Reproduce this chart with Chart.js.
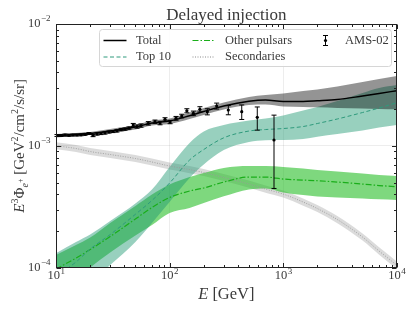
<!DOCTYPE html>
<html>
<head>
<meta charset="utf-8">
<script src="https://cdn.jsdelivr.net/npm/chart.js@4.4.0/dist/chart.umd.min.js"></script>
<style>
  html, body { margin: 0; padding: 0; background: #fff; }
</style>
</head>
<body>
<canvas id="chart" width="413" height="310"></canvas>
<script>
// energy grid [GeV]
const energy = [10, 15, 20, 30, 50, 70, 100, 150, 200, 300, 500, 700, 1000, 1500, 2000, 3000, 5000, 7000, 10000];

// E^3 flux [GeV^2/cm^2/s/sr]
const totalMid = [1.211e-3, 1.239e-3, 1.263e-3, 1.324e-3, 1.428e-3, 1.539e-3, 1.599e-3, 1.767e-3, 1.913e-3, 2.123e-3, 2.320e-3, 2.377e-3, 2.311e-3, 2.311e-3, 2.342e-3, 2.400e-3, 2.566e-3, 2.689e-3, 2.835e-3];
const totalHi = [1.251e-3, 1.275e-3, 1.299e-3, 1.374e-3, 1.482e-3, 1.614e-3, 1.676e-3, 1.877e-3, 2.044e-3, 2.268e-3, 2.517e-3, 2.614e-3, 2.689e-3, 2.818e-3, 2.900e-3, 3.069e-3, 3.340e-3, 3.535e-3, 3.742e-3];
const totalLo = [1.171e-3, 1.205e-3, 1.228e-3, 1.275e-3, 1.361e-3, 1.468e-3, 1.510e-3, 1.661e-3, 1.791e-3, 1.987e-3, 2.163e-3, 2.184e-3, 2.103e-3, 2.083e-3, 2.072e-3, 2.044e-3, 2.025e-3, 2.006e-3, 1.995e-3];

const top10Mid = [8.55e-5, 1.113e-4, 1.423e-4, 1.871e-4, 2.742e-4, 3.565e-4, 4.95e-4, 7.65e-4, 9.33e-4, 1.164e-3, 1.323e-3, 1.361e-3, 1.387e-3, 1.441e-3, 1.525e-3, 1.661e-3, 1.877e-3, 2.044e-3, 2.259e-3];
const top10Hi = [1.311e-4, 1.624e-4, 1.871e-4, 2.415e-4, 3.362e-4, 4.379e-4, 6.70e-4, 1.055e-3, 1.311e-3, 1.482e-3, 1.614e-3, 1.676e-3, 1.774e-3, 1.950e-3, 2.083e-3, 2.333e-3, 2.714e-3, 2.983e-3, 3.157e-3];
const top10Lo = [5.43e-5, 6.56e-5, 7.62e-5, 1.051e-4, 1.624e-4, 2.326e-4, 3.46e-4, 5.44e-4, 7.03e-4, 9.24e-4, 1.075e-3, 1.110e-3, 1.117e-3, 1.138e-3, 1.189e-3, 1.251e-3, 1.336e-3, 1.414e-3, 1.482e-3];

const otherMid = [9.75e-5, 1.20e-4, 1.41e-4, 1.803e-4, 2.508e-4, 3.118e-4, 3.766e-4, 4.258e-4, 4.506e-4, 5.046e-4, 5.547e-4, 5.547e-4, 5.34e-4, 5.24e-4, 5.172e-4, 5.046e-4, 4.859e-4, 4.724e-4, 4.618e-4];
const otherHi = [1.27e-4, 1.535e-4, 1.768e-4, 2.326e-4, 3.208e-4, 3.986e-4, 4.814e-4, 5.547e-4, 5.98e-4, 6.577e-4, 6.83e-4, 6.83e-4, 6.70e-4, 6.515e-4, 6.33e-4, 6.153e-4, 5.925e-4, 5.76e-4, 5.65e-4];
const otherLo = [6.31e-5, 8.07e-5, 1.003e-4, 1.332e-4, 1.837e-4, 2.239e-4, 2.81e-4, 3.088e-4, 3.40e-4, 3.85e-4, 4.379e-4, 4.462e-4, 4.139e-4, 3.948e-4, 3.839e-4, 3.766e-4, 3.696e-4, 3.64e-4, 3.593e-4];

const secMid = [1.002e-3, 9.51e-4, 8.98e-4, 8.487e-4, 7.87e-4, 7.37e-4, 6.83e-4, 6.39e-4, 6.04e-4, 5.495e-4, 4.859e-4, 4.42e-4, 4.023e-4, 3.459e-4, 3.059e-4, 2.485e-4, 1.785e-4, 1.37e-4, 1.051e-4];
const secHi = [1.072e-3, 1.018e-3, 9.61e-4, 9.08e-4, 8.42e-4, 7.89e-4, 7.31e-4, 6.84e-4, 6.46e-4, 5.88e-4, 5.20e-4, 4.73e-4, 4.30e-4, 3.70e-4, 3.27e-4, 2.66e-4, 1.91e-4, 1.47e-4, 1.125e-4];
const secLo = [9.37e-4, 8.89e-4, 8.40e-4, 7.94e-4, 7.36e-4, 6.89e-4, 6.39e-4, 5.97e-4, 5.65e-4, 5.14e-4, 4.54e-4, 4.13e-4, 3.76e-4, 3.23e-4, 2.86e-4, 2.32e-4, 1.67e-4, 1.28e-4, 9.8e-5];

// AMS-02 positrons
const amsE = [10.2, 11.1, 12.0, 13.0, 14.1, 15.3, 16.6, 18.0, 19.5, 21.2, 23.0, 24.9, 27.0, 29.3, 31.8, 34.4, 37.4, 40.5, 43.9, 47.9, 51.7, 56.0, 65.0, 74.4, 82.4, 91.2, 101, 114, 128, 142, 162, 185, 215, 260, 329, 432, 592, 831];
const amsFlux = [1.216e-3, 1.216e-3, 1.228e-3, 1.221e-3, 1.228e-3, 1.228e-3, 1.232e-3, 1.244e-3, 1.263e-3, 1.216e-3, 1.251e-3, 1.263e-3, 1.275e-3, 1.299e-3, 1.311e-3, 1.328e-3, 1.361e-3, 1.374e-3, 1.400e-3, 1.482e-3, 1.441e-3, 1.468e-3, 1.531e-3, 1.578e-3, 1.539e-3, 1.652e-3, 1.569e-3, 1.683e-3, 1.757e-3, 1.942e-3, 1.849e-3, 1.995e-3, 1.906e-3, 2.123e-3, 1.969e-3, 1.906e-3, 1.715e-3, 1.117e-3];
const amsErr = [2.2e-5, 2.2e-5, 2.2e-5, 2.2e-5, 2.2e-5, 2.2e-5, 2.2e-5, 2.2e-5, 2.2e-5, 2.6e-5, 2.6e-5, 2.6e-5, 2.6e-5, 2.6e-5, 2.6e-5, 3.0e-5, 3.0e-5, 3.0e-5, 3.0e-5, 4.5e-5, 4.5e-5, 4.5e-5, 5.0e-5, 5.0e-5, 5.0e-5, 5.0e-5, 5.0e-5, 6.0e-5, 6.0e-5, 7.5e-5, 8.0e-5, 1.0e-4, 1.1e-4, 1.2e-4, 1.7e-4, 2.6e-4, 3.7e-4, 6.7e-4];

const xMajors = [10, 100, 1000, 10000];
const yMajors = [1e-4, 1e-3, 1e-2];

const serif = '"Liberation Serif", "DejaVu Serif", serif';
const textColor = '#3a3a3a';

const pts = (arr) => energy.map((e, i) => ({ x: e, y: arr[i] }));

function lineSet(arr, color, width, dash) {
  return {
    data: pts(arr), borderColor: color, borderWidth: width, borderDash: dash,
    pointRadius: 0, fill: false, cubicInterpolationMode: 'monotone'
  };
}
function bandSet(arr, color, fillTo) {
  return {
    data: pts(arr), borderColor: 'transparent', borderWidth: 0, backgroundColor: color,
    pointRadius: 0, fill: fillTo, cubicInterpolationMode: 'monotone'
  };
}

// dataset 0 is drawn on top
const datasets = [
  {
    data: amsE.map((e, i) => ({ x: e, y: amsFlux[i] })), showLine: false,
    pointRadius: 1.6, pointBackgroundColor: '#000', pointBorderWidth: 0
  },
  lineSet(totalMid, '#000', 1.4, []),
  lineSet(top10Mid, '#2f9a7c', 1, [4, 2.5]),
  lineSet(otherMid, '#1aae1a', 1.2, [6, 2, 1.5, 2]),
  lineSet(secMid, '#9a9a9a', 0.9, [1, 1.5]),
  bandSet(totalHi, 'rgba(0,0,0,0.42)', '+1'),
  bandSet(totalLo, 'transparent', false),
  bandSet(top10Hi, 'rgba(27,150,110,0.45)', '+1'),
  bandSet(top10Lo, 'transparent', false),
  bandSet(otherHi, 'rgba(40,190,40,0.6)', '+1'),
  bandSet(otherLo, 'transparent', false),
  bandSet(secHi, 'rgba(0,0,0,0.14)', '+1'),
  bandSet(secLo, 'transparent', false)
];

function drawPow(ctx, x, y, exp, align) {
  const baseFont = '12.5px ' + serif, expFont = '9px ' + serif;
  ctx.font = baseFont;
  const w1 = ctx.measureText('10').width;
  ctx.font = expFont;
  const w2 = ctx.measureText(exp).width;
  const x0 = align === 'center' ? x - (w1 + w2) / 2 : x - (w1 + w2);
  ctx.textAlign = 'left';
  ctx.textBaseline = 'middle';
  ctx.font = baseFont;
  ctx.fillText('10', x0, y);
  ctx.font = expFont;
  ctx.fillText(exp, x0 + w1 + 0.5, y - 5);
}

function drawRich(ctx, parts, cx, baseY) {
  let w = 0;
  parts.forEach(p => { ctx.font = p.f; p.w = ctx.measureText(p.t).width; w += p.w; });
  let x = cx - w / 2;
  ctx.textAlign = 'left';
  ctx.textBaseline = 'alphabetic';
  parts.forEach(p => { ctx.font = p.f; ctx.fillText(p.t, x, baseY + (p.dy || 0)); x += p.w; });
}

// error bars, frame, inward ticks
const framePlugin = {
  id: 'frame',
  afterDatasetsDraw(chart) {
    const ctx = chart.ctx, xs = chart.scales.x, ys = chart.scales.y, a = chart.chartArea;
    ctx.save();
    // AMS-02 error bars
    ctx.strokeStyle = '#000';
    ctx.lineWidth = 1;
    amsE.forEach((e, i) => {
      const px = xs.getPixelForValue(e);
      const top = ys.getPixelForValue(amsFlux[i] + amsErr[i]);
      const bot = ys.getPixelForValue(amsFlux[i] - amsErr[i]);
      ctx.beginPath();
      ctx.moveTo(px, top); ctx.lineTo(px, bot);
      ctx.moveTo(px - 2.5, top); ctx.lineTo(px + 2.5, top);
      ctx.moveTo(px - 2.5, bot); ctx.lineTo(px + 2.5, bot);
      ctx.stroke();
    });

    ctx.strokeStyle = '#222';
    ctx.lineWidth = 1;
    const L = Math.round(a.left) + 0.5, R = Math.round(a.right) - 0.5;
    const T = Math.round(a.top) + 0.5, B = Math.round(a.bottom) - 0.5;
    ctx.strokeRect(L, T, R - L, B - T);

    ctx.beginPath();
    for (let d = 1; d <= 4; d++) {
      for (let k = 1; k <= 9; k++) {
        if (d === 4 && k > 1) break;
        const px = Math.round(xs.getPixelForValue(k * Math.pow(10, d))) + 0.5;
        const len = k === 1 ? 4.5 : 2.5;
        ctx.moveTo(px, B); ctx.lineTo(px, B - len);
        ctx.moveTo(px, T); ctx.lineTo(px, T + len);
      }
    }
    for (let d = -4; d <= -2; d++) {
      for (let k = 1; k <= 9; k++) {
        if (d === -2 && k > 1) break;
        const py = Math.round(ys.getPixelForValue(k * Math.pow(10, d))) + 0.5;
        const len = k === 1 ? 4.5 : 2.5;
        ctx.moveTo(L, py); ctx.lineTo(L + len, py);
        ctx.moveTo(R, py); ctx.lineTo(R - len, py);
      }
    }
    ctx.stroke();
    ctx.restore();
  },
  afterDraw(chart) {
    const ctx = chart.ctx, xs = chart.scales.x, ys = chart.scales.y, a = chart.chartArea;
    ctx.save();
    ctx.fillStyle = textColor;

    // tick labels
    xMajors.forEach((v, i) => drawPow(ctx, xs.getPixelForValue(v), a.bottom + 8.5, String(i + 1), 'center'));
    yMajors.forEach((v, i) => drawPow(ctx, a.left - 6, ys.getPixelForValue(v), '\u2212' + (4 - i), 'right'));

    // title
    ctx.font = '17px ' + serif;
    ctx.textAlign = 'center';
    ctx.textBaseline = 'alphabetic';
    ctx.fillText('Delayed injection', (a.left + a.right) / 2, 20);

    // x axis title
    drawRich(ctx, [
      { t: 'E', f: 'italic 16.5px ' + serif },
      { t: ' [GeV]', f: '16.5px ' + serif }
    ], (a.left + a.right) / 2, 299);

    // y axis title
    ctx.save();
    ctx.translate(19, (a.top + a.bottom) / 2);
    ctx.rotate(-Math.PI / 2);
    drawRich(ctx, [
      { t: 'E', f: 'italic 15px ' + serif },
      { t: '3', f: '10px ' + serif, dy: -6 },
      { t: '\u03A6', f: '15px ' + serif },
      { t: 'e', f: 'italic 10px ' + serif, dy: 3.5 },
      { t: '+', f: '8px ' + serif, dy: -1 },
      { t: ' [GeV', f: '15px ' + serif },
      { t: '2', f: '10px ' + serif, dy: -6 },
      { t: '/cm', f: '15px ' + serif },
      { t: '2', f: '10px ' + serif, dy: -6 },
      { t: '/s/sr]', f: '15px ' + serif }
    ], 0, 5);
    ctx.restore();

    // legend
    const bx = 99.5, by = 29.5, bw = 292, bh = 37, r = 3;
    ctx.beginPath();
    ctx.moveTo(bx + r, by);
    ctx.arcTo(bx + bw, by, bx + bw, by + bh, r);
    ctx.arcTo(bx + bw, by + bh, bx, by + bh, r);
    ctx.arcTo(bx, by + bh, bx, by, r);
    ctx.arcTo(bx, by, bx + bw, by, r);
    ctx.closePath();
    ctx.fillStyle = 'rgba(255,255,255,0.85)';
    ctx.fill();
    ctx.strokeStyle = '#d6d6d6';
    ctx.lineWidth = 1;
    ctx.stroke();

    const rows = [40.5, 57];
    const entries = [
      { label: 'Total', x0: 103.5, x1: 126.5, tx: 136, row: 0, color: '#000', w: 1.5, dash: [] },
      { label: 'Top 10', x0: 103.5, x1: 126.5, tx: 136, row: 1, color: '#2f9a7c', w: 1, dash: [4, 2.5] },
      { label: 'Other pulsars', x0: 192.5, x1: 213.5, tx: 225, row: 0, color: '#1aae1a', w: 1.2, dash: [6, 2, 1.5, 2] },
      { label: 'Secondaries', x0: 192.5, x1: 213.5, tx: 225, row: 1, color: '#8a8a8a', w: 1, dash: [1, 1.5] }
    ];
    entries.forEach(en => {
      const y = rows[en.row];
      ctx.strokeStyle = en.color;
      ctx.lineWidth = en.w;
      ctx.setLineDash(en.dash);
      ctx.beginPath();
      ctx.moveTo(en.x0, y); ctx.lineTo(en.x1, y);
      ctx.stroke();
      ctx.setLineDash([]);
      ctx.fillStyle = textColor;
      ctx.font = '12.5px ' + serif;
      ctx.textAlign = 'left';
      ctx.textBaseline = 'middle';
      ctx.fillText(en.label, en.tx, y);
    });
    // AMS-02 legend marker
    const mx = 325.5, my = rows[0];
    ctx.strokeStyle = '#000';
    ctx.lineWidth = 1;
    ctx.beginPath();
    ctx.moveTo(mx, my - 5); ctx.lineTo(mx, my + 5);
    ctx.moveTo(mx - 2.5, my - 5); ctx.lineTo(mx + 2.5, my - 5);
    ctx.moveTo(mx - 2.5, my + 5); ctx.lineTo(mx + 2.5, my + 5);
    ctx.stroke();
    ctx.fillStyle = '#000';
    ctx.beginPath();
    ctx.arc(mx, my, 1.6, 0, Math.PI * 2);
    ctx.fill();
    ctx.fillStyle = textColor;
    ctx.fillText('AMS-02', 345, my);

    ctx.restore();
  }
};

new Chart(document.getElementById('chart'), {
  type: 'line',
  data: { datasets: datasets },
  options: {
    responsive: false,
    animation: false,
    layout: { padding: { top: 24, right: 16.3, left: 0, bottom: 0 } },
    plugins: {
      legend: { display: false },
      tooltip: { enabled: false },
      title: { display: false }
    },
    scales: {
      x: {
        type: 'logarithmic', min: 10, max: 10000,
        afterBuildTicks: (s) => { s.ticks = xMajors.map(v => ({ value: v })); },
        afterFit: (s) => { s.height = 42.3; },
        ticks: { display: false },
        grid: { color: 'rgba(0,0,0,0.07)', drawTicks: false },
        border: { display: false }
      },
      y: {
        type: 'logarithmic', min: 1e-4, max: 1e-2,
        afterBuildTicks: (s) => { s.ticks = yMajors.map(v => ({ value: v })); },
        afterFit: (s) => { s.width = 56; },
        ticks: { display: false },
        grid: { color: 'rgba(0,0,0,0.07)', drawTicks: false },
        border: { display: false }
      }
    }
  },
  plugins: [framePlugin]
});
</script>
</body>
</html>
